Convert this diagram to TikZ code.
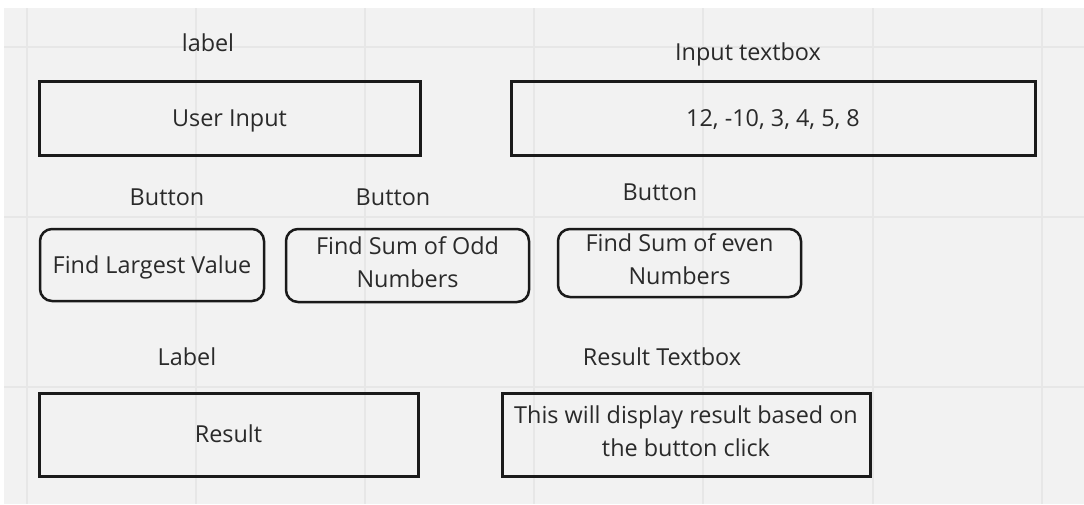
\documentclass[tikz,border=0pt]{standalone}
\usepackage{fontspec}
\setmainfont{Open Sans}
\usetikzlibrary{positioning}
\definecolor{canvas}{HTML}{F2F2F2}
\definecolor{gridline}{HTML}{E7E7E7}
\definecolor{ink}{HTML}{1A1A1A}
\definecolor{txt}{HTML}{2A2A2A}

\begin{document}
\begin{tikzpicture}[
        x=1pt, y=-1pt,
        every node/.style={font=\fontsize{23.4}{33}\selectfont, text=txt},
        field/.style={
            draw=ink,
            line width=3pt,
            rectangle,
            inner sep=0pt,
            align=center
        },
        btn/.style={
            draw=ink,
            line width=2.5pt,
            rectangle,
            rounded corners=12pt,
            inner sep=0pt,
            align=center
        },
        oneline/.style={text height=16pt, text depth=0pt},
        twolines/.style={text depth=7pt},
        caption/.style={inner sep=0pt, oneline}
    ]

        % canvas and grid
        \useasboundingbox (0,0) rectangle (1084,504);
        \fill[white] (0,0) rectangle (1084,504);
        \fill[canvas] (4,8) rectangle (1084,504);
        \foreach \gx in {27,196,365,534,703,873,1042}
            \draw[gridline, line width=1.2pt] (\gx,8) -- (\gx,504);
        \foreach \gy in {47,217,387}
            \draw[gridline, line width=1.2pt] (4,\gy) -- (1084,\gy);

        % first row: input
        \node[field, oneline, minimum width=381pt, minimum height=74pt] (ubox) at (229.5,118) {User Input};
        \node[field, oneline, minimum width=524pt, minimum height=74pt] (ibox) at (773,118) {12, -10, 3, 4, 5, 8};
        \node[caption] (ulabel) at (208,43) {label};
        \node[caption] (ilabel) at (748,52) {Input textbox};

        % second row: buttons
        \node[btn, oneline, minimum width=224pt, minimum height=72pt] (largest) at (152,265) {Find Largest Value};
        \node[btn, twolines, minimum width=243pt, minimum height=73pt] (oddsum) at (407.5,265.5) {Find Sum of Odd\\ Numbers};
        \node[btn, twolines, minimum width=243pt, minimum height=68pt] (evensum) at (679.5,263) {Find Sum of even\\ Numbers};
        \node[caption] (lcap) at (167,197) {Button};
        \node[caption] (ocap) at (393,197) {Button};
        \node[caption] (ecap) at (660,192) {Button};

        % third row: result
        \node[field, oneline, minimum width=379pt, minimum height=83pt] (rbox) at (228.5,434.5) {Result};
        \node[field, twolines, minimum width=368pt, minimum height=83pt] (tbox) at (686,434.5) {This will display result based on\\ the button click};
        \node[caption] (rlabel) at (187,357) {Label};
        \node[caption] (tlabel) at (662,357) {Result Textbox};

    \end{tikzpicture}
\end{document}
